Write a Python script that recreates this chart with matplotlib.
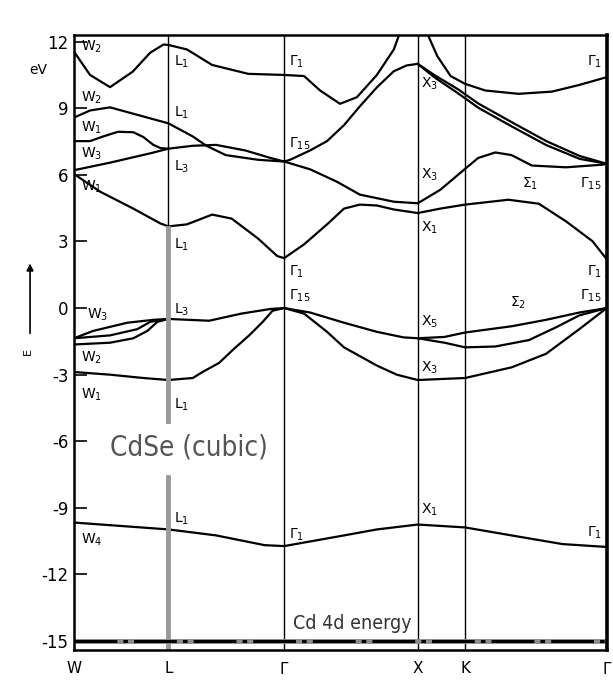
import numpy as np
import matplotlib.pyplot as plt

# high-symmetry points (k-path length in units of 2pi/a)
sym_labels = ["W", "L", r"$\Gamma$", "X", "K", r"$\Gamma$"]
sym_k = [0.0, 0.707, 1.573, 2.573, 2.927, 3.987]

# ---- conduction bands (k, E in eV) ----
c1_k = [0.0, 0.12, 0.27, 0.44, 0.57, 0.67, 0.707, 0.845, 1.034, 1.304, 1.573,
        1.722, 1.842, 1.991, 2.118, 2.267, 2.394, 2.439, 2.47]
c1_E = [11.55, 10.5, 9.95, 10.65, 11.5, 11.87, 11.85, 11.65, 10.95, 10.55, 10.5,
        10.45, 9.8, 9.2, 9.5, 10.5, 11.65, 12.4, 12.9]

c2_k = [2.604, 2.642, 2.719, 2.819, 2.927, 3.078, 3.327, 3.578, 3.782, 3.987]
c2_E = [13.0, 12.4, 11.35, 10.45, 10.1, 9.8, 9.65, 9.75, 10.05, 10.4]

c3_k = [1.573, 1.618, 1.767, 1.894, 2.021, 2.140, 2.267, 2.394, 2.491, 2.573]
c3_E = [6.6, 6.68, 7.1, 7.52, 8.24, 9.09, 9.94, 10.67, 10.93, 11.0]

c3a_k = [2.573, 2.696, 2.873, 3.027, 3.277, 3.535, 3.785, 3.987]
c3a_E = [11.0, 10.5, 9.86, 9.21, 8.37, 7.52, 6.85, 6.5]
c3b_E = [11.0, 10.4, 9.68, 9.02, 8.18, 7.34, 6.72, 6.5]

c4_k = [1.573, 1.767, 1.968, 2.140, 2.394, 2.573, 2.742, 2.927, 3.025, 3.154,
        3.275, 3.427, 3.684, 3.957, 3.987]
c4_E = [6.6, 6.25, 5.69, 5.11, 4.79, 4.72, 5.33, 6.27, 6.76, 7.01,
        6.89, 6.42, 6.34, 6.46, 6.5]

c5_k = [0.0, 0.196, 0.444, 0.647, 0.707, 0.845, 1.034, 1.180, 1.376, 1.522, 1.573,
        1.722, 1.894, 2.021, 2.140, 2.267, 2.394, 2.573,
        2.742, 2.927, 3.252, 3.479, 3.684, 3.881, 3.987]
c5_E = [6.04, 5.24, 4.48, 3.81, 3.68, 3.77, 4.21, 4.03, 3.14, 2.34, 2.25,
        2.87, 3.77, 4.48, 4.66, 4.62, 4.44, 4.28,
        4.48, 4.66, 4.88, 4.70, 3.90, 3.01, 2.2]

c6_k = [0.0, 0.12, 0.27, 0.549, 0.707, 0.889, 0.991, 1.136, 1.376, 1.573]
c6_E = [8.58, 8.9, 9.04, 8.58, 8.32, 7.73, 7.31, 6.89, 6.68, 6.6]

c7_k = [0.0, 0.12, 0.218, 0.33, 0.444, 0.52, 0.594, 0.65, 0.707]
c7_E = [7.52, 7.52, 7.73, 7.94, 7.92, 7.7, 7.35, 7.2, 7.18]

c8_k = [0.0, 0.27, 0.571, 0.707]
c8_E = [6.21, 6.55, 6.97, 7.18]

c9_k = [0.707, 0.889, 1.063, 1.282, 1.471, 1.573]
c9_E = [7.18, 7.31, 7.35, 7.10, 6.76, 6.6]

# ---- valence bands ----
v1_k = [0.0, 0.27, 0.519, 0.707, 0.889, 0.962, 1.086, 1.195, 1.311, 1.413, 1.486, 1.573]
v1_E = [-2.88, -3.0, -3.15, -3.24, -3.15, -2.88, -2.47, -1.85, -1.23, -0.62, -0.12, 0.0]

v2_k = [0.0, 0.143, 0.399, 0.594, 0.707]
v2_E = [-1.36, -1.03, -0.66, -0.53, -0.49]

v3_k = [0.0, 0.27, 0.474, 0.571, 0.707]
v3_E = [-1.36, -1.23, -0.95, -0.62, -0.49]

v4_k = [0.0, 0.27, 0.444, 0.549, 0.624, 0.707]
v4_E = [-1.64, -1.56, -1.36, -1.03, -0.62, -0.49]

v5_k = [0.707, 1.012, 1.252, 1.471, 1.573]
v5_E = [-0.49, -0.57, -0.25, -0.04, 0.0]

v6_k = [1.573, 1.767, 2.021, 2.267, 2.466, 2.573, 2.773, 2.927, 3.275, 3.533, 3.782, 3.987]
v6_E = [0.0, -0.2, -0.66, -1.07, -1.32, -1.36, -1.3, -1.1, -0.82, -0.53, -0.2, 0.0]

v7_k = [2.573, 2.773, 2.927, 3.154, 3.406, 3.610, 3.782, 3.987]
v7_E = [-1.36, -1.56, -1.77, -1.73, -1.44, -0.86, -0.33, 0.0]

v8_k = [1.573, 1.722, 1.894, 2.021, 2.267, 2.416, 2.573, 2.927, 3.275, 3.533, 3.782, 3.987]
v8_E = [0.0, -0.25, -1.07, -1.77, -2.59, -3.0, -3.24, -3.15, -2.67, -2.06, -0.95, 0.0]

v9_k = [0.0, 0.707, 1.064, 1.428, 1.573, 2.021, 2.267, 2.573, 2.927, 3.275, 3.656, 3.987]
v9_E = [-9.66, -9.97, -10.24, -10.68, -10.72, -10.24, -9.97, -9.75, -9.88, -10.24, -10.63, -10.76]

cd4d_E = -15.0

bands = [(c1_k, c1_E), (c2_k, c2_E), (c3_k, c3_E), (c3a_k, c3a_E), (c3a_k, c3b_E),
         (c4_k, c4_E), (c5_k, c5_E), (c6_k, c6_E), (c7_k, c7_E), (c8_k, c8_E),
         (c9_k, c9_E), (v1_k, v1_E), (v2_k, v2_E), (v3_k, v3_E), (v4_k, v4_E),
         (v5_k, v5_E), (v6_k, v6_E), (v7_k, v7_E), (v8_k, v8_E), (v9_k, v9_E)]

# state labels: (k, E, text, alignment)
point_labels = [
    (0.05, 11.75, r"W$_2$", "left"), (0.05, 9.45, r"W$_2$", "left"),
    (0.05, 8.1, r"W$_1$", "left"), (0.05, 6.95, r"W$_3$", "left"),
    (0.05, 5.45, r"W$_1$", "left"), (0.10, -0.3, r"W$_3$", "left"),
    (0.05, -2.25, r"W$_2$", "left"), (0.05, -3.9, r"W$_1$", "left"),
    (0.05, -10.45, r"W$_4$", "left"),
    (0.75, 11.1, r"L$_1$", "left"), (0.75, 8.8, r"L$_1$", "left"),
    (0.75, 6.35, r"L$_3$", "left"), (0.75, 2.85, r"L$_1$", "left"),
    (0.75, -0.1, r"L$_3$", "left"), (0.75, -4.35, r"L$_1$", "left"),
    (0.75, -9.5, r"L$_1$", "left"),
    (1.61, 11.1, r"$\Gamma_1$", "left"), (1.61, 7.4, r"$\Gamma_{15}$", "left"),
    (1.61, 1.65, r"$\Gamma_1$", "left"), (1.61, 0.55, r"$\Gamma_{15}$", "left"),
    (1.61, -10.2, r"$\Gamma_1$", "left"),
    (2.60, 10.1, r"X$_3$", "left"), (2.60, 6.0, r"X$_3$", "left"),
    (2.60, 3.6, r"X$_1$", "left"), (2.60, -0.6, r"X$_5$", "left"),
    (2.60, -2.7, r"X$_3$", "left"), (2.60, -9.1, r"X$_1$", "left"),
    (3.95, 11.1, r"$\Gamma_1$", "right"), (3.95, 5.6, r"$\Gamma_{15}$", "right"),
    (3.95, 1.65, r"$\Gamma_1$", "right"), (3.95, 0.55, r"$\Gamma_{15}$", "right"),
    (3.95, -10.1, r"$\Gamma_1$", "right"),
    (3.35, 5.6, r"$\Sigma_1$", "left"), (3.26, 0.25, r"$\Sigma_2$", "left"),
]

yticks = [12, 9, 6, 3, 0, -3, -6, -9, -12, -15]


def main():
    fig = plt.figure(figsize=(6.13, 6.86), dpi=100)
    ax = fig.add_axes([0.1207, 0.0525, 0.869, 0.8965])

    for k, E in bands:
        ax.plot(k, E, color="black", lw=1.6, solid_capstyle="round",
                solid_joinstyle="round")

    # vertical symmetry lines
    for k in sym_k[2:5]:
        ax.axvline(k, color="black", lw=1.0)
    ax.plot([sym_k[1], sym_k[1]], [12.3, 3.6], color="black", lw=1.0)
    ax.plot([sym_k[1], sym_k[1]], [3.6, -5.1], color="#9a9a9a", lw=3.5)
    ax.plot([sym_k[1], sym_k[1]], [-7.6, -15.4], color="#9a9a9a", lw=3.5)

    # Cd 4d level
    ax.axhline(cd4d_E, color="#8c8c8c", lw=3.5)
    ax.axhline(cd4d_E, color="black", lw=2.2, ls=(0, (14, 2, 1.5, 2)))
    ax.text(1.64, -14.2, "Cd 4d energy", fontsize=14, color="#333333",
            stretch="condensed", ha="left", va="center")

    for k, E, s, ha in point_labels:
        ax.text(k, E, s, fontsize=10, ha=ha, va="center")

    ax.text(0.86, -6.3, "CdSe (cubic)", fontsize=20, color="#555555",
            stretch="condensed", ha="center", va="center")

    ax.set_xlim(sym_k[0], sym_k[-1])
    ax.set_ylim(-15.4, 12.3)
    ax.set_xticks(sym_k)
    ax.set_xticklabels(sym_labels, fontsize=11)
    ax.set_yticks(yticks)
    ax.set_yticklabels([str(t) for t in yticks], fontsize=12)
    ax.tick_params(axis="y", direction="in", length=9, width=1.2, pad=4)
    ax.tick_params(axis="x", length=0, pad=8)
    for side in ["left", "top", "bottom"]:
        ax.spines[side].set_linewidth(1.8)
    ax.spines["right"].set_linewidth(2.6)

    # energy axis marker
    fig.text(0.062, 0.898, "eV", fontsize=10, ha="center", va="center")
    ax.annotate("", xy=(0.049, 0.62), xytext=(0.049, 0.51),
                xycoords="figure fraction", textcoords="figure fraction",
                arrowprops=dict(arrowstyle="-|>", color="black", lw=1.2))
    fig.text(0.046, 0.487, "E", fontsize=8, rotation=90, ha="center", va="center")

    fig.savefig("out.png", dpi=100)


if __name__ == "__main__":
    main()
